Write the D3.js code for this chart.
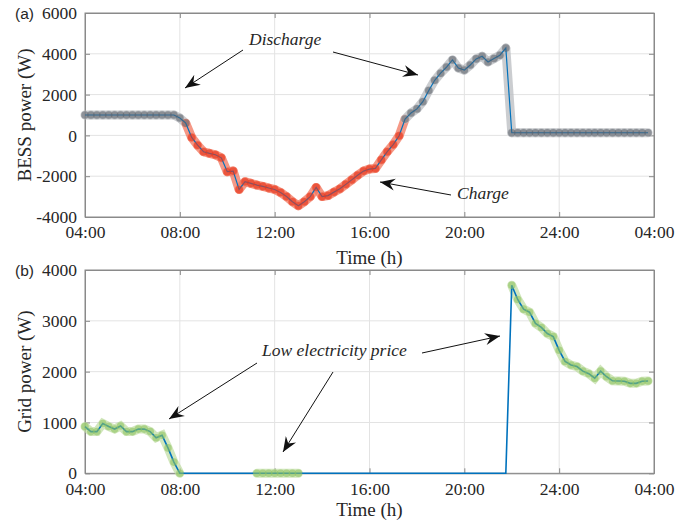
<!DOCTYPE html>
<html>
<head>
<meta charset="utf-8">
<script src="https://cdn.jsdelivr.net/npm/d3@7"></script>
<style>
    body { margin: 0; background: #fff; }
    text { font-family: "Liberation Serif", "Times New Roman", serif; fill: #262626; }
</style>
</head>
<body>
<div id="chart"></div>
<script>
// sample times (h), 15 min steps from 04:00 to 03:45 next day
const times = d3.range(96).map(i => 4 + i / 4);

// BESS power (W)
const bessPower = [
    1000, 1000, 1000, 1000, 1000, 1000, 1000, 1000, 1000, 1000, 1000, 1000, 1000, 1000, 1000, 1000,
    850, 600, -100, -480, -800, -880, -950, -1100, -1780, -1750, -2650, -2270,
    -2350, -2435, -2500, -2580, -2650, -2800, -3000, -3250, -3450, -3250, -3000, -2550,
    -3000, -2950, -2780, -2620, -2400, -2180, -1950, -1750, -1650, -1620, -1200, -800, -450, -20,
    800, 1100, 1300, 1650, 2200, 2700, 3050, 3350, 3700, 3300, 3200, 3450, 3750, 3880, 3600, 3770, 3930, 4280,
    130, 130, 130, 130, 130, 130, 130, 130, 130, 130, 130, 130,
    130, 130, 130, 130, 130, 130, 130, 130, 130, 130, 130, 130
];

// grid power (W)
const gridPower = [
    920, 820, 820, 980, 920, 870, 930, 820, 820, 870, 870, 820, 700, 750, 500, 220, 0,
    0, 0, 0, 0, 0, 0, 0, 0, 0, 0, 0,
    0, 0, 0, 0, 0, 0, 0, 0, 0, 0, 0,
    0, 0, 0, 0, 0, 0, 0, 0, 0, 0, 0,
    0, 0, 0, 0, 0, 0, 0, 0, 0, 0, 0,
    0, 0, 0, 0, 0, 0, 0, 0, 0, 0, 0,
    3700, 3420, 3230, 3170, 2950, 2870, 2750, 2690, 2420, 2200, 2130, 2100,
    2010, 1960, 1870, 2010, 1900, 1820, 1815, 1810, 1770, 1770, 1810, 1815
];

// low electricity price periods (h) -> marked points on grid power
const lowPriceRanges = [[4, 8], [11.25, 13], [22, 27.75]];

const xTicks = [4, 8, 12, 16, 20, 24, 28];
const xTickLabels = ['04:00', '08:00', '12:00', '16:00', '20:00', '24:00', '04:00'];
const bessTicks = [-4000, -2000, 0, 2000, 4000, 6000];
const gridTicks = [0, 1000, 2000, 3000, 4000];

const W = 691, H = 527;
const left = 85, right = 654;
const blue = '#0072BD';

const svg = d3.select('#chart')
    .append('svg')
    .attr('width', W)
    .attr('height', H);

// arrow head
svg.append('defs')
    .append('marker')
    .attr('id', 'arrow')
    .attr('markerUnits', 'userSpaceOnUse')
    .attr('viewBox', '-15 -7 17 14')
    .attr('markerWidth', 17)
    .attr('markerHeight', 14)
    .attr('refX', 0)
    .attr('refY', 0)
    .attr('orient', 'auto')
    .append('path')
    .attr('d', 'M0,0 L-15,-6 L-10,0 L-15,6 Z')
    .attr('fill', '#111');

const x = d3.scaleLinear().domain([4, 28]).range([left, right]);

function makeAxes(top, bottom, yDomain, yTicks, yLabel, panel, xLabelY) {
    const y = d3.scaleLinear().domain(yDomain).range([bottom, top]);
    const g = svg.append('g');

    // grid
    g.append('g')
        .selectAll('line.gx')
        .data(xTicks.slice(1, -1))
        .enter()
        .append('line')
        .attr('x1', d => x(d)).attr('x2', d => x(d))
        .attr('y1', top).attr('y2', bottom)
        .attr('stroke', '#e3e3e3');
    g.append('g')
        .selectAll('line.gy')
        .data(yTicks.slice(1, -1))
        .enter()
        .append('line')
        .attr('x1', left).attr('x2', right)
        .attr('y1', d => y(d)).attr('y2', d => y(d))
        .attr('stroke', '#e3e3e3');

    // axes, ticks inside on all four sides
    const ax = g.append('g').attr('class', 'axes');
    ax.append('g')
        .attr('transform', `translate(0, ${bottom})`)
        .call(d3.axisBottom(x).tickValues(xTicks).tickSizeInner(-5).tickSizeOuter(0)
            .tickPadding(9).tickFormat((d, i) => xTickLabels[i]));
    ax.append('g')
        .attr('transform', `translate(0, ${top})`)
        .call(d3.axisTop(x).tickValues(xTicks).tickSizeInner(-5).tickSizeOuter(0).tickFormat(''));
    ax.append('g')
        .attr('transform', `translate(${left}, 0)`)
        .call(d3.axisLeft(y).tickValues(yTicks).tickSizeInner(-5).tickSizeOuter(0)
            .tickPadding(8).tickFormat(d => String(d)));
    ax.append('g')
        .attr('transform', `translate(${right}, 0)`)
        .call(d3.axisRight(y).tickValues(yTicks).tickSizeInner(-5).tickSizeOuter(0).tickFormat(''));

    ax.selectAll('.domain, .tick line').attr('stroke', '#8a8a8a');
    ax.selectAll('.tick text')
        .style('font-family', '"Liberation Serif", serif')
        .style('font-size', '17.5px')
        .attr('fill', '#262626');

    g.append('rect')
        .attr('x', left).attr('y', top)
        .attr('width', right - left).attr('height', bottom - top)
        .attr('fill', 'none')
        .attr('stroke', '#8a8a8a');

    // labels
    g.append('text')
        .attr('x', (left + right) / 2)
        .attr('y', xLabelY)
        .attr('text-anchor', 'middle')
        .style('font-size', '19px')
        .text('Time (h)');
    g.append('text')
        .attr('transform', `translate(31, ${(top + bottom) / 2}) rotate(-90)`)
        .attr('text-anchor', 'middle')
        .style('font-size', '19px')
        .text(yLabel);
    g.append('text')
        .attr('x', 15)
        .attr('y', top + 6)
        .style('font-family', '"Liberation Sans", Arial, sans-serif')
        .style('font-size', '15.5px')
        .text(panel);

    return y;
}

function arrow(x1, y1, x2, y2) {
    svg.append('line')
        .attr('x1', x1).attr('y1', y1)
        .attr('x2', x2).attr('y2', y2)
        .attr('stroke', '#111')
        .attr('stroke-width', 1)
        .attr('marker-end', 'url(#arrow)');
}

function note(tx, ty, str) {
    svg.append('text')
        .attr('x', tx).attr('y', ty)
        .style('font-style', 'italic')
        .style('font-size', '17.5px')
        .text(str);
}

// ---------------- (a) BESS power
const yA = makeAxes(13, 217, [-4000, 6000], bessTicks, 'BESS power (W)', '(a)', 264);

const bess = times.map((t, i) => ({ t: t, v: bessPower[i] }));
const lineA = d3.line().x(d => x(d.t)).y(d => yA(d.v));

// wide halo, coloured per segment (red = charge)
const segA = svg.append('g');
for (let i = 0; i < bess.length - 1; i++) {
    const charge = bess[i].v < 0 || bess[i + 1].v < 0;
    segA.append('path')
        .attr('d', lineA([bess[i], bess[i + 1]]))
        .attr('fill', 'none')
        .attr('stroke', charge ? '#f2765d' : '#b9bcc0')
        .attr('stroke-width', 9)
        .attr('stroke-linecap', 'round')
        .attr('opacity', 0.75);
}
svg.append('path')
    .datum(bess)
    .attr('d', lineA)
    .attr('fill', 'none')
    .attr('stroke', blue)
    .attr('stroke-width', 1.2);
svg.append('g')
    .selectAll('circle')
    .data(bess)
    .enter()
    .append('circle')
    .attr('cx', d => x(d.t))
    .attr('cy', d => yA(d.v))
    .attr('r', 3.8)
    .attr('fill', d => d.v < 0 ? '#e8381f' : '#5d636c')
    .attr('opacity', d => d.v < 0 ? 0.6 : 0.55);

// ---------------- (b) Grid power
const yB = makeAxes(270, 473.3, [0, 4000], gridTicks, 'Grid power (W)', '(b)', 516);

const grid = times.map((t, i) => ({ t: t, v: gridPower[i] }));
const lineB = d3.line().x(d => x(d.t)).y(d => yB(d.v));
const lowPrice = grid.filter(d => lowPriceRanges.some(r => d.t >= r[0] && d.t <= r[1]));

lowPriceRanges.forEach(r => {
    svg.append('path')
        .datum(grid.filter(d => d.t >= r[0] && d.t <= r[1]))
        .attr('d', lineB)
        .attr('fill', 'none')
        .attr('stroke', '#bddc9f')
        .attr('stroke-width', 9)
        .attr('stroke-linecap', 'round')
        .attr('opacity', 0.7);
});
svg.append('path')
    .datum(grid)
    .attr('d', lineB)
    .attr('fill', 'none')
    .attr('stroke', blue)
    .attr('stroke-width', 1.6);
svg.append('g')
    .selectAll('circle')
    .data(lowPrice)
    .enter()
    .append('circle')
    .attr('cx', d => x(d.t))
    .attr('cy', d => yB(d.v))
    .attr('r', 3.8)
    .attr('fill', '#8fc463')
    .attr('opacity', 0.6);

// ---------------- annotations
note(249, 45, 'Discharge');
arrow(243, 50, 185, 88);
arrow(333, 52, 418, 75);
note(457, 199, 'Charge');
arrow(451, 195, 380, 182);
note(262, 356, 'Low electricity price');
arrow(257, 363, 169, 419);
arrow(333, 372, 283, 452);
arrow(422, 353, 500, 336);
</script>
</body>
</html>
